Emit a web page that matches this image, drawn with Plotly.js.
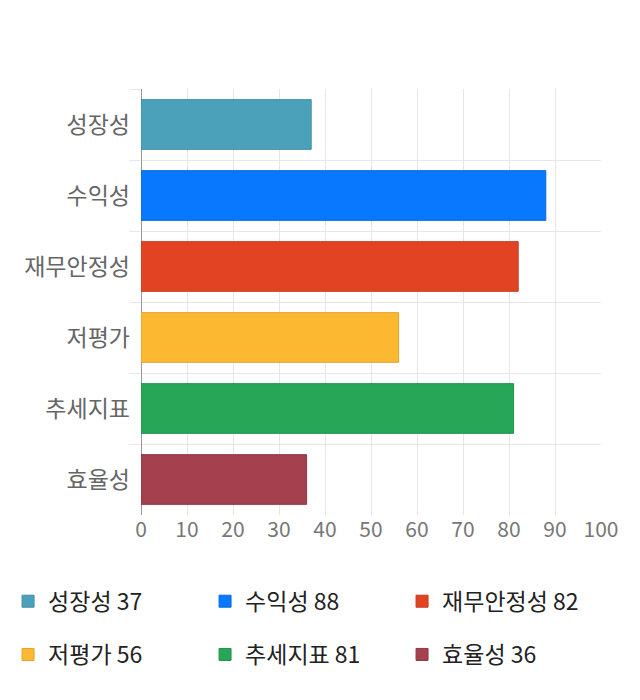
<!DOCTYPE html>
<html>
<head>
<meta charset="utf-8">
<script src="https://cdn.plot.ly/plotly-3.0.1.min.js"></script>
<style>
  html, body { margin: 0; padding: 0; background: #fff; }
  #chart { width: 640px; height: 700px; }
</style>
</head>
<body>
<div id="chart"></div>
<script>
// scores per category
const categories = ['성장성', '수익성', '재무안정성', '저평가', '추세지표', '효율성'];
const scores = [37, 88, 82, 56, 81, 36];
const barColors = ['#4aa1b9', '#0878fe', '#e24423', '#fdb832', '#28a657', '#a5404e'];
const lineColors = ['#3f8ea4', '#0a6ad9', '#c93b1e', '#e2a12a', '#21924c', '#8f3744'];
const xTicks = [0, 10, 20, 30, 40, 50, 60, 70, 80, 90, 100];

const font = '"Noto Sans CJK KR", "Noto Sans", sans-serif';

const data = categories.map((cat, i) => ({
    type: 'bar',
    orientation: 'h',
    x: [scores[i]],
    y: [cat],
    name: cat + ' ' + scores[i],
    width: 0.7,
    legend: i < 3 ? 'legend' : 'legend2',
    marker: {
        color: barColors[i],
        line: { color: lineColors[i], width: 1 }
    },
    hovertemplate: cat + ': %{x}<extra></extra>'
}));

const legendBase = {
    orientation: 'h',
    xanchor: 'left',
    yanchor: 'top',
    x: -0.289,
    entrywidth: 152,
    font: { family: font, size: 23, color: '#222' },
    bgcolor: 'rgba(0,0,0,0)'
};

const layout = {
    width: 640,
    height: 700,
    margin: { l: 141, r: 39, t: 89, b: 185, autoexpand: false },
    paper_bgcolor: '#fff',
    plot_bgcolor: '#fff',
    font: { family: font },
    barmode: 'overlay',
    showlegend: true,
    legend: Object.assign({}, legendBase, { y: -0.152 }),
    legend2: Object.assign({}, legendBase, { y: -0.277 }),
    xaxis: {
        range: [0, 100],
        tickvals: xTicks,
        automargin: false,
        showgrid: true,
        gridcolor: '#e6e6e6',
        zeroline: true,
        zerolinecolor: '#999',
        zerolinewidth: 1,
        ticks: '',
        tickfont: { family: font, size: 21, color: '#777' },
        fixedrange: true
    },
    yaxis: {
        type: 'category',
        categoryorder: 'array',
        categoryarray: categories,
        autorange: 'reversed',
        automargin: false,
        tickson: 'boundaries',
        showgrid: true,
        gridcolor: '#e6e6e6',
        ticks: 'outside',
        ticklen: 11,
        tickcolor: '#e6e6e6',
        ticklabelstandoff: 10,
        tickfont: { family: font, size: 23, color: '#666' },
        fixedrange: true
    }
};

Plotly.newPlot('chart', data, layout, { displayModeBar: false, staticPlot: true });
</script>
</body>
</html>
